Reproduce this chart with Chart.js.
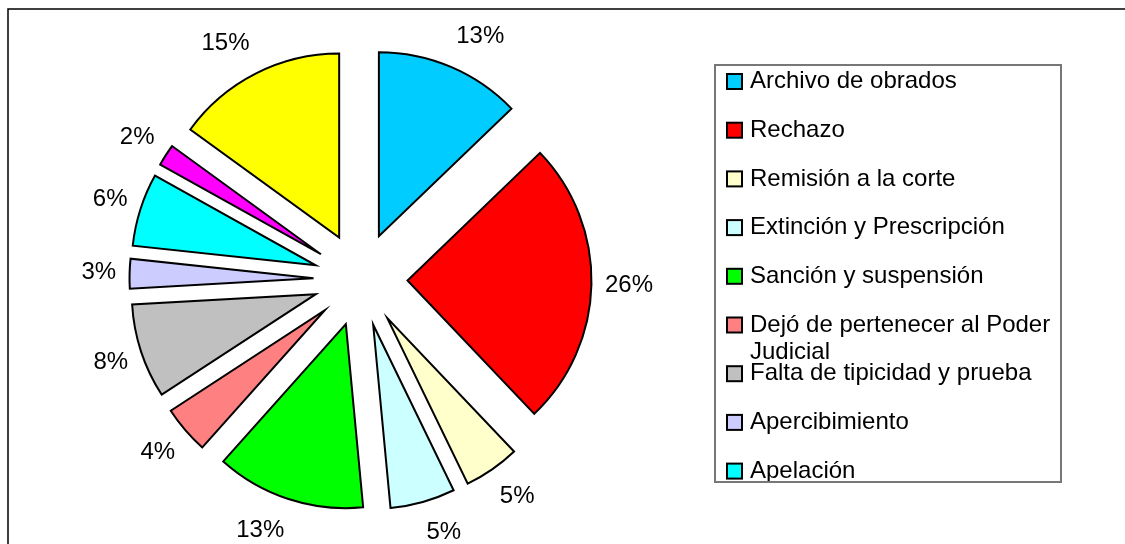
<!doctype html>
<html lang="es">
  <head>
    <meta charset="UTF-8">
    <title>Resoluciones</title>
    <style>
      html, body { margin: 0; padding: 0; background: #fff; }
      #wrap { width: 1125px; height: 544px; }
    </style>
  </head>
  <body>
    <div id="wrap"><canvas id="myChart"></canvas></div>

    <script src="https://cdn.jsdelivr.net/npm/chart.js@4.4.1/dist/chart.umd.min.js"></script>
    <script>
    // Data-----
    const categories = [
      'Archivo de obrados', 'Rechazo', 'Remisión a la corte', 'Extinción y Prescripción',
      'Sanción y suspensión', 'Dejó de pertenecer al Poder Judicial', 'Falta de tipicidad y prueba',
      'Apercibimiento', 'Apelación', '', ''
    ];
    const shares = [12.8, 25.1, 4.9, 5.7, 13.1, 4.2, 8.3, 2.6, 6.4, 1.9, 15.0];
    const shareLabels = ['13%', '26%', '5%', '5%', '13%', '4%', '8%', '3%', '6%', '2%', '15%'];
    const colors = [
      '#00CCFF', '#FF0000', '#FFFFCC', '#CCFFFF', '#00FF00', '#FF8080',
      '#C0C0C0', '#CCCCFF', '#00FFFF', '#FF00FF', '#FFFF00'
    ];
    // Data-----

    const FONT = '24px "Liberation Sans", Arial, sans-serif';
    const EXPLODE = 47;        // distance every slice is pulled out
    const LABEL_DIST = 244.5;  // from pie centre to label anchor
    const LABEL_MAX_Y = 532;
    const LEG = { x: 715, y: 65, w: 346, h: 417, firstRow: 81.5, rowStep: 48.7, lineH: 27.5 };

    // pull each slice out along its middle angle (like an exploded Excel pie)
    const explodePlugin = {
      id: 'explode',
      afterDatasetUpdate(chart, args) {
        chart.getDatasetMeta(args.index).data.forEach(arc => {
          const mid = (arc.startAngle + arc.endAngle) / 2;
          arc.x += Math.cos(mid) * EXPLODE;
          arc.y += Math.sin(mid) * EXPLODE;
        });
      }
    };

    // outer chart frame
    const framePlugin = {
      id: 'frame',
      beforeDraw(chart) {
        const ctx = chart.ctx;
        ctx.save();
        ctx.strokeStyle = '#000';
        ctx.lineWidth = 1.5;
        ctx.strokeRect(8, 9, 1300, 700);
        ctx.restore();
      }
    };

    // percentage labels outside each slice
    const labelPlugin = {
      id: 'pctLabels',
      afterDatasetsDraw(chart) {
        const ctx = chart.ctx;
        const area = chart.chartArea;
        const cx = (area.left + area.right) / 2;
        const cy = (area.top + area.bottom) / 2;
        ctx.save();
        ctx.font = FONT;
        ctx.fillStyle = '#000';
        ctx.textAlign = 'center';
        ctx.textBaseline = 'middle';
        chart.getDatasetMeta(0).data.forEach((arc, i) => {
          const mid = (arc.startAngle + arc.endAngle) / 2;
          const dx = Math.cos(mid), dy = Math.sin(mid);
          const w = ctx.measureText(shareLabels[i]).width;
          const x = cx + LABEL_DIST * dx + Math.sign(dx) * w / 2;
          let y = cy + (LABEL_DIST + 20) * dy;
          y = Math.min(y, LABEL_MAX_Y);
          ctx.fillText(shareLabels[i], x, y);
        });
        ctx.restore();
      }
    };

    function wrapText(ctx, text, maxW) {
      const words = text.split(' ');
      const lines = [];
      let line = '';
      words.forEach(wd => {
        const test = line ? line + ' ' + wd : wd;
        if (line && ctx.measureText(test).width > maxW) {
          lines.push(line);
          line = wd;
        } else {
          line = test;
        }
      });
      lines.push(line);
      return lines;
    }

    // boxed legend, items that do not fit are clipped like in the original
    const legendPlugin = {
      id: 'boxLegend',
      afterDraw(chart) {
        const ctx = chart.ctx;
        const ds = chart.data.datasets[0];
        ctx.save();
        ctx.strokeStyle = '#777';
        ctx.lineWidth = 2;
        ctx.strokeRect(LEG.x, LEG.y, LEG.w, LEG.h);
        ctx.beginPath();
        ctx.rect(LEG.x + 1, LEG.y + 1, LEG.w - 2, LEG.h - 2);
        ctx.clip();
        ctx.font = FONT;
        ctx.textAlign = 'left';
        ctx.textBaseline = 'middle';
        chart.data.labels.forEach((name, i) => {
          const yc = LEG.firstRow + i * LEG.rowStep;
          ctx.fillStyle = ds.backgroundColor[i];
          ctx.fillRect(727, yc - 7.5, 15, 15);
          ctx.strokeStyle = '#000';
          ctx.lineWidth = 2;
          ctx.strokeRect(727, yc - 7.5, 15, 15);
          ctx.fillStyle = '#000';
          wrapText(ctx, name, LEG.x + LEG.w - 750 - 6).forEach((ln, k) => {
            ctx.fillText(ln, 750, yc + k * LEG.lineH);
          });
        });
        ctx.restore();
      }
    };

    // Config-----
    const config = {
      type: 'pie',
      data: {
        labels: categories,
        datasets: [{
          data: shares,
          backgroundColor: colors,
          borderColor: '#000',
          borderWidth: 2,
          borderJoinStyle: 'miter',
          radius: 184,
          hoverOffset: 0
        }]
      },
      options: {
        responsive: true,
        maintainAspectRatio: false,
        animation: false,
        events: [],
        layout: {
          padding: { left: 100, right: 504, top: 30, bottom: 15 }
        },
        plugins: {
          legend: { display: false },
          tooltip: { enabled: false }
        }
      },
      plugins: [framePlugin, explodePlugin, labelPlugin, legendPlugin]
    };
    // Config-----

    var myChart = new Chart(document.getElementById('myChart'), config);
    </script>
  </body>
</html>
